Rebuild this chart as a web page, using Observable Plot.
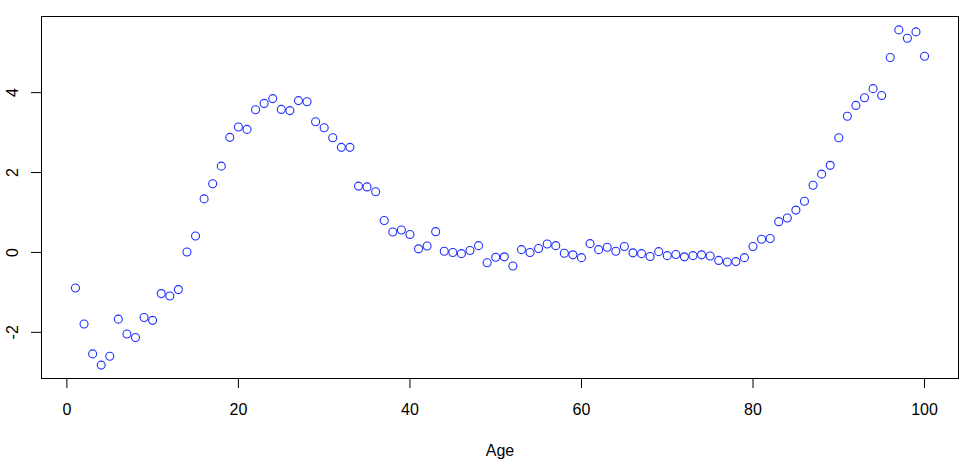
<!DOCTYPE html>
<html>
<head>
<meta charset="utf-8">
<script src="https://cdn.jsdelivr.net/npm/d3@7"></script>
<script src="https://cdn.jsdelivr.net/npm/@observablehq/plot@0.6"></script>
<style>
  html, body { margin: 0; padding: 0; background: #fff; }
</style>
</head>
<body>
<div id="chart"></div>
<script>
const age = [1,2,3,4,5,6,7,8,9,10,11,12,13,14,15,16,17,18,19,20,
  21,22,23,24,25,26,27,28,29,30,31,32,33,34,35,36,37,38,39,40,
  41,42,43,44,45,46,47,48,49,50,51,52,53,54,55,56,57,58,59,60,
  61,62,63,64,65,66,67,68,69,70,71,72,73,74,75,76,77,78,79,80,
  81,82,83,84,85,86,87,88,89,90,91,92,93,94,95,96,97,98,99,100];
const value = [-0.89,-1.79,-2.54,-2.82,-2.60,-1.67,-2.04,-2.13,-1.63,-1.70,
  -1.03,-1.09,-0.93,0.01,0.41,1.34,1.72,2.16,2.88,3.14,
  3.08,3.57,3.73,3.85,3.58,3.55,3.80,3.77,3.27,3.12,
  2.87,2.63,2.63,1.66,1.64,1.52,0.80,0.51,0.56,0.45,
  0.09,0.16,0.52,0.03,0.00,-0.03,0.05,0.17,-0.26,-0.12,
  -0.11,-0.34,0.07,0.00,0.10,0.21,0.17,-0.02,-0.06,-0.13,
  0.22,0.07,0.13,0.03,0.15,-0.01,-0.03,-0.10,0.02,-0.08,
  -0.05,-0.11,-0.08,-0.06,-0.09,-0.20,-0.24,-0.23,-0.13,0.15,
  0.33,0.35,0.77,0.86,1.06,1.28,1.68,1.96,2.18,2.87,
  3.41,3.68,3.87,4.10,3.93,4.88,5.57,5.36,5.52,4.91];
const xTicks = [0, 20, 40, 60, 80, 100];
const yTicks = [-2, 0, 2, 4];
const xLabel = "Age";

const data = age.map((a, i) => ({age: a, value: value[i]}));

// R-style 4% axis extension
function rRange(arr) {
  const lo = d3.min(arr), hi = d3.max(arr), pad = (hi - lo) * 0.04;
  return [lo - pad, hi + pad];
}

const chart = Plot.plot({
  width: 970,
  height: 465,
  marginLeft: 41,
  marginRight: 12,
  marginTop: 16,
  marginBottom: 87,
  style: {fontFamily: "'Liberation Sans', Arial, Helvetica, sans-serif", fontSize: "16px", color: "#000", background: "#fff"},
  x: {domain: rRange(age), nice: false},
  y: {domain: rRange(value), nice: false},
  marks: [
    Plot.frame({stroke: "#000", strokeWidth: 1}),
    Plot.axisX(xTicks, {tickSize: 10, tickPadding: 15, label: null, stroke: "#000", fill: "#000"}),
    Plot.axisY(yTicks, {tickSize: 10, text: null, label: null, stroke: "#000"}),
    Plot.text(yTicks, {y: d => d, text: d => String(d), frameAnchor: "left", dx: -24, rotate: -90, textAnchor: "middle", lineAnchor: "bottom", fill: "#000"}),
    Plot.text([xLabel], {text: d => d, frameAnchor: "bottom", dy: 77, lineAnchor: "bottom", fill: "#000"}),
    Plot.dot(data, {x: "age", y: "value", r: 4, stroke: "#1f2fff", strokeWidth: 1.1, fill: "none"})
  ]
});
document.getElementById("chart").appendChild(chart);
</script>
</body>
</html>
